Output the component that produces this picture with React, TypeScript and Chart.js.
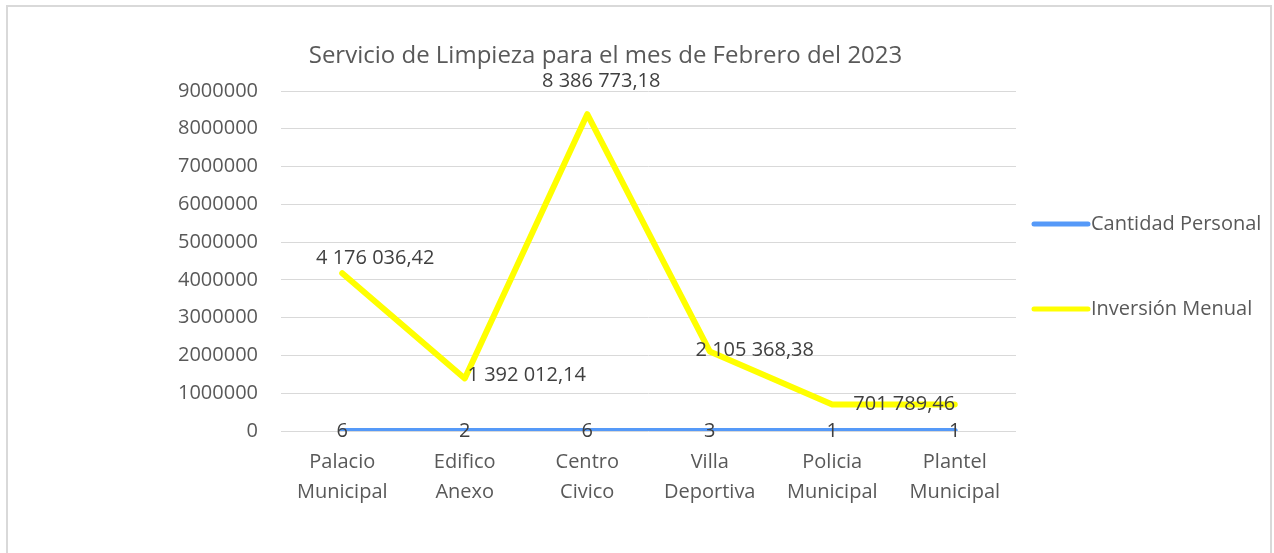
import React, { useEffect, useRef } from "react";
import { Chart, registerables } from "chart.js";

Chart.register(...registerables);

const TITLE = "Servicio de Limpieza para el mes de Febrero del 2023";
const CATEGORIES: string[][] = [
  ["Palacio", "Municipal"],
  ["Edifico", "Anexo"],
  ["Centro", "Civico"],
  ["Villa", "Deportiva"],
  ["Policia", "Municipal"],
  ["Plantel", "Municipal"],
];
const SERIES_NAMES = ["Cantidad Personal", "Inversión Menual"];
const CANTIDAD_PERSONAL = [6, 2, 6, 3, 1, 1];
const INVERSION_MENUAL = [4176036.42, 1392012.14, 8386773.18, 2105368.38, 701789.46, 701789.46];
const INVERSION_LABEL_SHOWN = [true, true, true, true, true, false];
const Y_TICKS = [0, 1000000, 2000000, 3000000, 4000000, 5000000, 6000000, 7000000, 8000000, 9000000];

// label placement (offsets of label centre from its point, in px)
const INVERSION_LABEL_OFFSETS: [number, number][] = [
  [33, -15],
  [62, -3],
  [14, -33],
  [45, -1],
  [72, 0],
  [0, 0],
];

const FONT = "'Open Sans', 'Noto Sans', sans-serif";
const BLUE = "#5599F8";
const YELLOW = "#FFFF00";
const GRID = "#d9d9d9";
const TICK_COLOR = "#595959";
const LABEL_COLOR = "#404040";

function formatEs(n: number): string {
  const [intPart, dec] = n.toFixed(2).split(".");
  const grouped = intPart.replace(/\B(?=(\d{3})+(?!\d))/g, " ");
  return grouped + "," + dec;
}

const overlayPlugin = {
  id: "overlay",
  afterDatasetsDraw(chart: any) {
    const ctx = chart.ctx as CanvasRenderingContext2D;
    const area = chart.chartArea;
    ctx.save();
    // title
    ctx.fillStyle = TICK_COLOR;
    ctx.font = `24px ${FONT}`;
    ctx.textAlign = "center";
    ctx.textBaseline = "middle";
    ctx.fillText(TITLE, (area.left + area.right) / 2 - 43, area.top - 35);

    // data labels
    ctx.font = `20px ${FONT}`;
    ctx.fillStyle = LABEL_COLOR;
    const meta0 = chart.getDatasetMeta(0);
    meta0.data.forEach((pt: any, i: number) => {
      ctx.fillText(String(CANTIDAD_PERSONAL[i]), pt.x, pt.y);
    });
    const meta1 = chart.getDatasetMeta(1);
    meta1.data.forEach((pt: any, i: number) => {
      if (!INVERSION_LABEL_SHOWN[i]) return;
      const [dx, dy] = INVERSION_LABEL_OFFSETS[i];
      ctx.fillText(formatEs(INVERSION_MENUAL[i]), pt.x + dx, pt.y + dy);
    });

    // legend
    const colors = [BLUE, YELLOW];
    const lx = area.right + 18;
    const ys = [area.top + 133, area.top + 218];
    ctx.lineCap = "round";
    ctx.lineWidth = 5;
    ctx.font = `20px ${FONT}`;
    ctx.textAlign = "left";
    ctx.fillStyle = TICK_COLOR;
    SERIES_NAMES.forEach((name, i) => {
      ctx.strokeStyle = colors[i];
      ctx.beginPath();
      ctx.moveTo(lx, ys[i]);
      ctx.lineTo(lx + 54, ys[i]);
      ctx.stroke();
      ctx.fillText(name, lx + 57, ys[i]);
    });
    ctx.restore();
  },
};

export default function App() {
  const canvasRef = useRef<HTMLCanvasElement | null>(null);

  useEffect(() => {
    document.body.style.overflow = "hidden";
    const canvas = canvasRef.current;
    if (!canvas) return;
    const chart = new Chart(canvas, {
      type: "line",
      data: {
        labels: CATEGORIES,
        datasets: [
          {
            label: SERIES_NAMES[0],
            data: CANTIDAD_PERSONAL,
            borderColor: BLUE,
            backgroundColor: BLUE,
            borderWidth: 6,
            pointRadius: 0,
            tension: 0,
            borderCapStyle: "round",
            borderJoinStyle: "round",
          },
          {
            label: SERIES_NAMES[1],
            data: INVERSION_MENUAL,
            borderColor: YELLOW,
            backgroundColor: YELLOW,
            borderWidth: 6,
            pointRadius: 0,
            tension: 0,
            borderCapStyle: "round",
            borderJoinStyle: "round",
          },
        ],
      },
      options: {
        responsive: false,
        animation: false,
        layout: { padding: { top: 91, right: 258, bottom: 0, left: 0 } },
        plugins: {
          legend: { display: false },
          title: { display: false },
          tooltip: { enabled: false },
        },
        scales: {
          x: {
            offset: true,
            grid: { display: false, drawTicks: false },
            border: { display: false },
            ticks: {
              color: TICK_COLOR,
              font: { family: FONT, size: 20, lineHeight: 1.5 },
              padding: 16,
              maxRotation: 0,
              autoSkip: false,
            },
            afterFit(scale: any) {
              scale.height = 122;
            },
          },
          y: {
            min: 0,
            max: 9000000,
            afterBuildTicks(scale: any) {
              scale.ticks = Y_TICKS.map((v) => ({ value: v }));
            },
            grid: { color: GRID, lineWidth: 1, drawTicks: false },
            border: { display: false },
            ticks: {
              color: TICK_COLOR,
              font: { family: FONT, size: 20 },
              padding: 23,
              callback: (v: any) => String(v),
            },
            afterFit(scale: any) {
              scale.width = 281;
            },
          },
        },
      },
      plugins: [overlayPlugin],
    });
    return () => chart.destroy();
  }, []);

  return (
    <>
      <div
        style={{
          position: "fixed",
          left: 6,
          top: 5,
          width: 1266,
          height: 700,
          border: "2px solid #d9d9d9",
          boxSizing: "border-box",
          background: "#fff",
        }}
      />
      <canvas
        ref={canvasRef}
        width={1274}
        height={553}
        style={{ position: "fixed", left: 0, top: 0, width: 1274, height: 553 }}
      />
    </>
  );
}
